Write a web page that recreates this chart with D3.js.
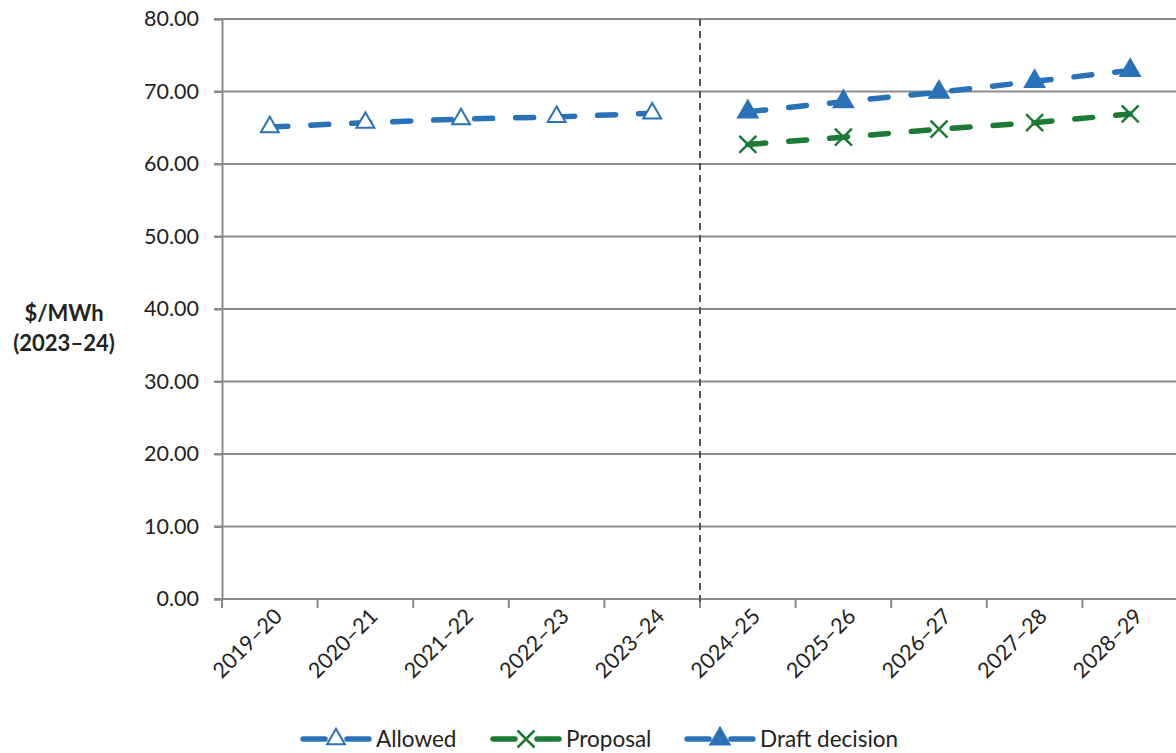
<!DOCTYPE html>
<html>
<head>
<meta charset="utf-8">
<script src="https://cdn.jsdelivr.net/npm/d3@7"></script>
<style>
  html, body { margin: 0; padding: 0; background: #fff; }
  svg { display: block; font-family: Lato, "Open Sans", sans-serif; }
</style>
</head>
<body>
<svg id="chart" width="1176" height="753"></svg>
<script>
// Financial years on the category axis
const years = ["2019–20","2020–21","2021–22","2022–23","2023–24","2024–25","2025–26","2026–27","2027–28","2028–29"];
// $/MWh (2023–24) by series
const allowedYears = ["2019–20","2020–21","2021–22","2022–23","2023–24"];
const allowed = [65.1, 65.7, 66.2, 66.5, 67.0];
const forecastYears = ["2024–25","2025–26","2026–27","2027–28","2028–29"];
const proposal = [62.7, 63.7, 64.8, 65.7, 66.9];
const draftDecision = [67.2, 68.6, 69.9, 71.4, 72.9];
const yTicks = [0, 10, 20, 30, 40, 50, 60, 70, 80];
const legendLabels = ["Allowed", "Proposal", "Draft decision"];

const blue = "#2a72b8", green = "#1b7a33", grid = "#8c8c8c";
const svg = d3.select("#chart");
const plotLeft = 222, plotRight = 1178, plotTop = 19, plotBottom = 599;

const x = d3.scaleBand().domain(years).range([plotLeft, plotRight]);
const y = d3.scaleLinear().domain([0, 80]).range([plotBottom, plotTop]);

// Horizontal gridlines
svg.append("g").selectAll("line").data(yTicks).join("line")
  .attr("x1", plotLeft - 8).attr("x2", plotRight)
  .attr("y1", d => y(d)).attr("y2", d => y(d))
  .attr("stroke", grid).attr("stroke-width", 2);

// Y axis
const yAxis = svg.append("g").attr("transform", `translate(${plotLeft},0)`)
  .call(d3.axisLeft(y).tickValues(yTicks).tickFormat(d3.format(".2f")).tickSize(8).tickPadding(15));
yAxis.select(".domain").attr("stroke", grid).attr("stroke-width", 2);
yAxis.selectAll(".tick line").attr("stroke", grid).attr("stroke-width", 2);
yAxis.selectAll("text").attr("font-size", 21.5).attr("fill", "#222").attr("font-family", "Lato, sans-serif");

// X axis with ticks at category boundaries
const xAxis = svg.append("g").attr("transform", `translate(0,${plotBottom})`);
xAxis.append("line").attr("x1", plotLeft).attr("x2", plotRight).attr("stroke", grid).attr("stroke-width", 2);
xAxis.selectAll("line.tk").data(years).join("line").attr("class", "tk")
  .attr("x1", d => x(d)).attr("x2", d => x(d)).attr("y1", 0).attr("y2", 9)
  .attr("stroke", grid).attr("stroke-width", 2);
xAxis.selectAll("text").data(years).join("text")
  .attr("transform", d => `translate(${x(d) + x.bandwidth() / 2 + 3},${8}) rotate(-45)`)
  .attr("text-anchor", "end").attr("dy", "0.7em")
  .attr("font-size", 21.5).attr("fill", "#222")
  .text(d => d);

// Dashed divider between actual and forecast periods
svg.append("line")
  .attr("x1", x("2024–25")).attr("x2", x("2024–25"))
  .attr("y1", plotTop).attr("y2", plotBottom + 8)
  .attr("stroke", "#555").attr("stroke-width", 2).attr("stroke-dasharray", "7 5");

// Y axis title
const yTitle = svg.append("text").attr("text-anchor", "middle")
  .attr("font-size", 22).attr("font-weight", "bold").attr("fill", "#222");
yTitle.append("tspan").attr("x", 64).attr("y", 321).text("$/MWh");
yTitle.append("tspan").attr("x", 64).attr("y", 351).text("(2023–24)");

const cx = d => x(d) + x.bandwidth() / 2;
const line = d3.line().x(d => cx(d[0])).y(d => y(d[1]));

function series(cats, vals, color, marker) {
  const pts = cats.map((c, i) => [c, vals[i]]);
  svg.append("path").datum(pts).attr("d", line)
    .attr("fill", "none").attr("stroke", color).attr("stroke-width", 5.5)
    .attr("stroke-linecap", "round").attr("stroke-dasharray", "18 23");
  const g = svg.append("g");
  pts.forEach(p => drawMarker(g, cx(p[0]), y(p[1]), color, marker));
}

function drawMarker(g, px, py, color, marker) {
  if (marker === "open" || marker === "filled") {
    const s = marker === "open" ? 17.5 : 19;
    const tri = d3.symbol().type(d3.symbolTriangle).size(s * s * 0.45);
    g.append("path").attr("d", tri()).attr("transform", `translate(${px},${py})`)
      .attr("fill", marker === "open" ? "#fff" : color)
      .attr("stroke", color).attr("stroke-width", 2);
  } else {
    const r = 8.5;
    g.append("path")
      .attr("d", `M${px - r},${py - r}L${px + r},${py + r}M${px - r},${py + r}L${px + r},${py - r}`)
      .attr("stroke", color).attr("stroke-width", 2.5).attr("fill", "none");
  }
}

series(allowedYears, allowed, blue, "open");
series(forecastYears, proposal, green, "cross");
series(forecastYears, draftDecision, blue, "filled");

// Legend
const legendItems = [
  { label: legendLabels[0], color: blue, marker: "open", x: 303 },
  { label: legendLabels[1], color: green, marker: "cross", x: 493 },
  { label: legendLabels[2], color: blue, marker: "filled", x: 687 }
];
const lg = svg.append("g");
legendItems.forEach(it => {
  const ly = 739;
  lg.append("line").attr("x1", it.x).attr("x2", it.x + 66).attr("y1", ly).attr("y2", ly)
    .attr("stroke", it.color).attr("stroke-width", 5.5).attr("stroke-linecap", "round")
    .attr("stroke-dasharray", "22 22");
  drawMarker(lg, it.x + 33, ly, it.color, it.marker);
  lg.append("text").attr("x", it.x + 73).attr("y", ly).attr("dy", "0.35em")
    .attr("font-size", 22.5).attr("fill", "#222").text(it.label);
});
</script>
</body>
</html>
